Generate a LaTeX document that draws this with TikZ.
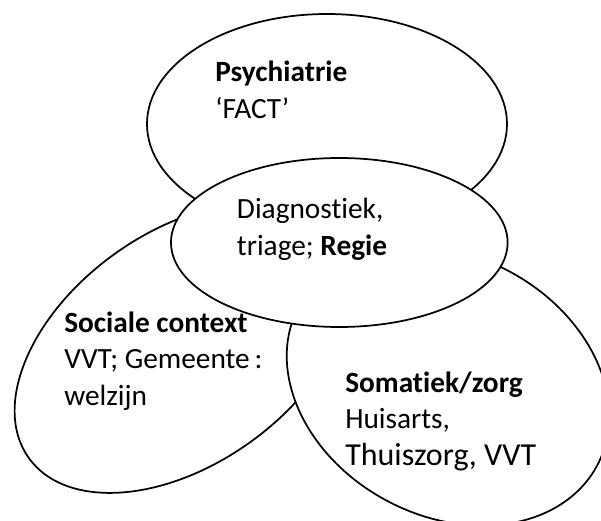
\documentclass[tikz,border=0pt]{standalone}
\usepackage{fontspec}
\setmainfont{Carlito}[Ligatures=NoCommon]
\usetikzlibrary{shapes.geometric}
\tikzset{
bubble/.style={ellipse, draw, fill=white, line width=1.3pt, inner sep=0pt}, % one field of care
bubbletext/.style={anchor=base west, align=left, inner sep=0pt, font=\fontsize{22}{27.3}\selectfont}, % placed at the baseline of the last line
}

\begin{document}
\begin{tikzpicture}[x=0.75pt, y=-0.75pt]
        \useasboundingbox (0,0) rectangle (601,521);
        \node[bubble, minimum width=270pt, minimum height=165pt] (psy) at (327,124) {};
        \node[bubble, minimum width=283.5pt, minimum height=174pt, rotate=35.6] (soc) at (182.5,348) {};
        \node[bubble, minimum width=253.5pt, minimum height=195pt, rotate=-28] (som) at (448,386) {};
        \node[bubble, minimum width=252.5pt, minimum height=126.75pt] (diag) at (339.3,242.5) {};
        \node[bubbletext] (psytext) at (215,118.3) {\textbf{Psychiatrie}\\‘FACT’};
        \node[bubbletext] (diagtext) at (236.7,255) {Diagnostiek,\\triage; \textbf{Regie}};
        \node[bubbletext] (soctext) at (64,405) {\textbf{Sociale context}\\VVT; Gemeente\,:\\welzijn};
        \node[bubbletext] (somtext) at (345,465) {\textbf{Somatiek/zorg}\\Huisarts,\\{\fontsize{24}{27.3}\selectfont Thuiszorg, VVT}};
\end{tikzpicture}
\end{document}
